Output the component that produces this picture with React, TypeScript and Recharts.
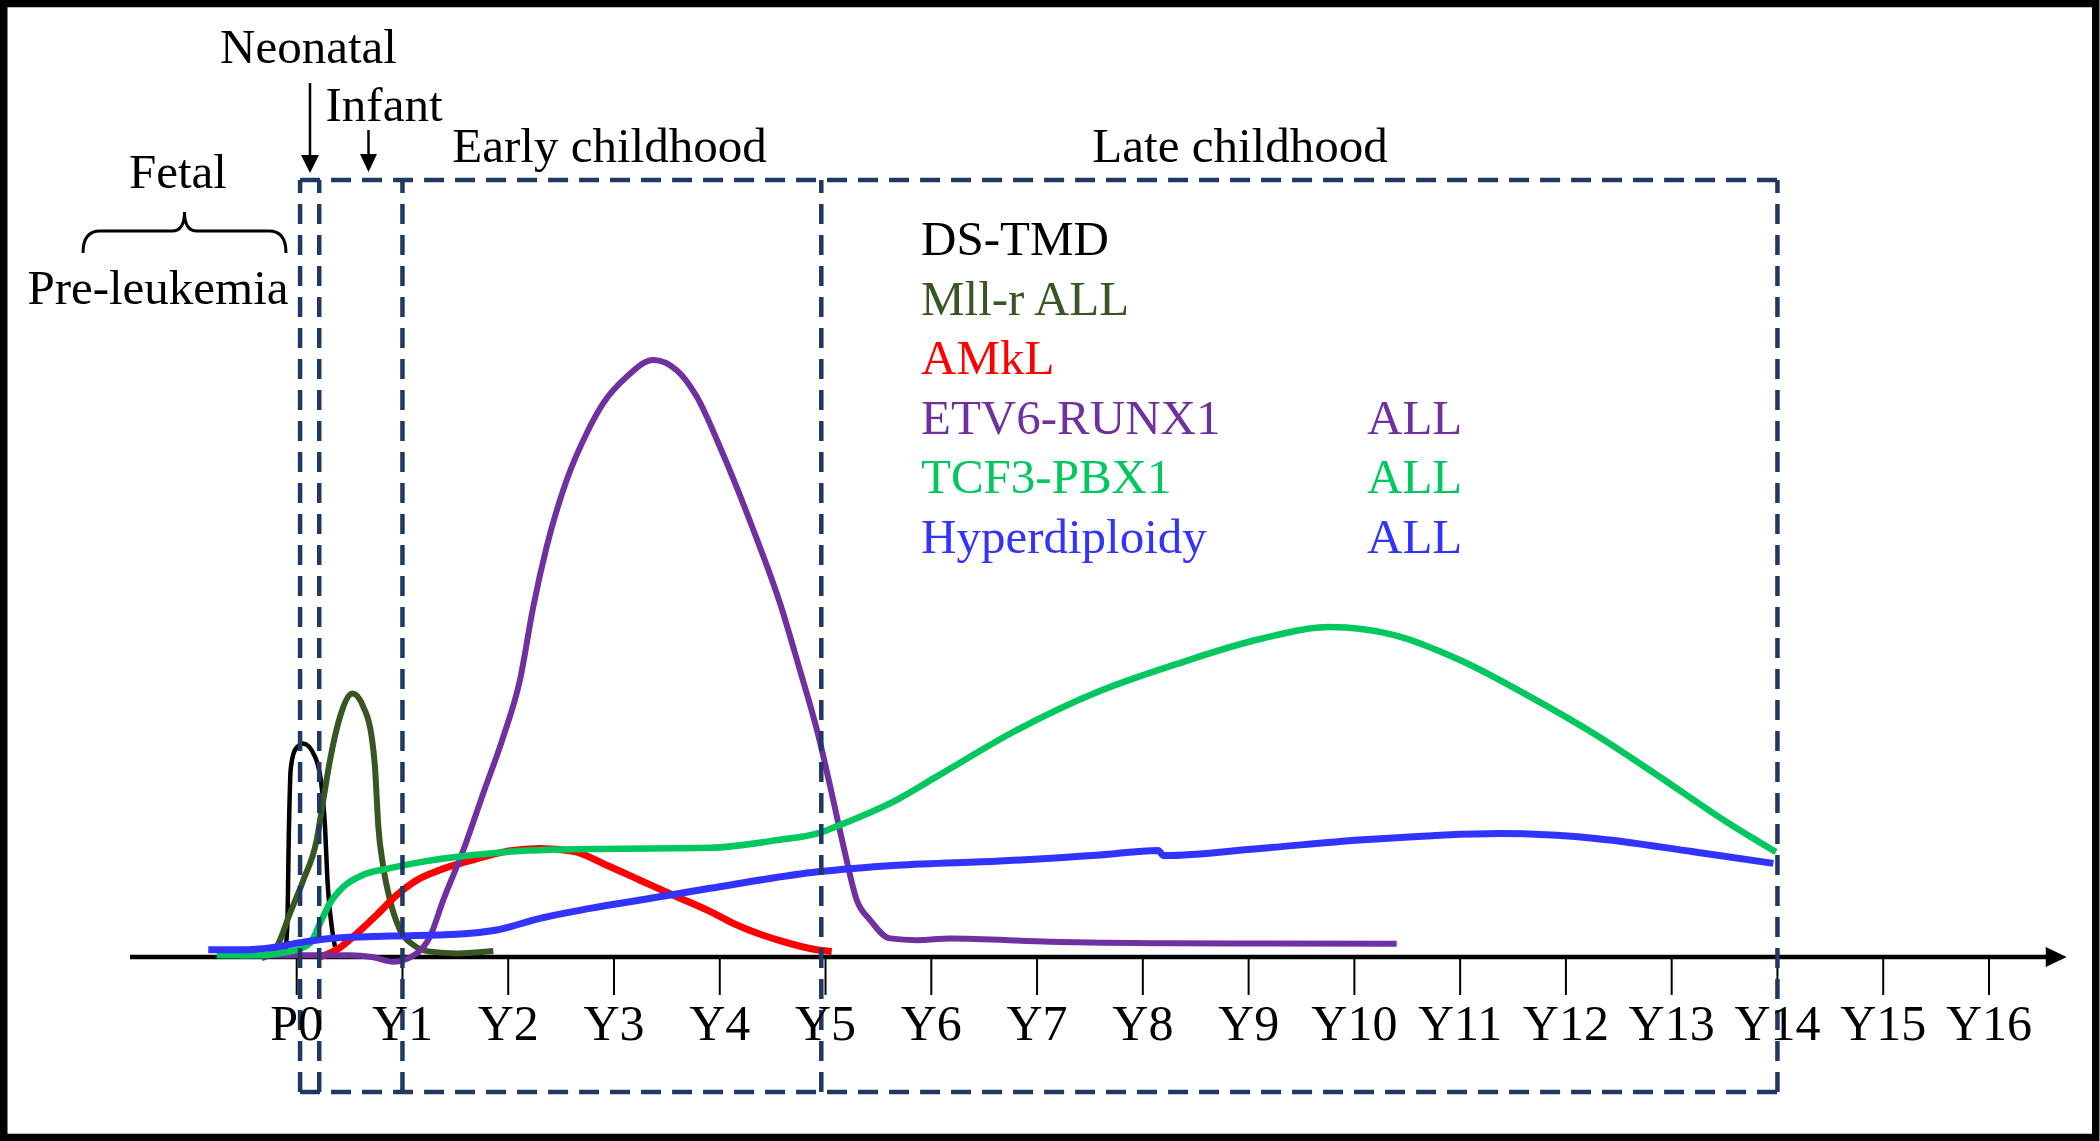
import { LineChart, Line, XAxis, YAxis, ReferenceLine, ReferenceDot } from 'recharts'

type Pt = { age: number; level: number }

const pts = (rows: number[][]): Pt[] => rows.map(([age, level]) => ({ age, level }))

// x axis: P0 = birth, then years; tick labels as printed
const tickLabels = ['P0', 'Y1', 'Y2', 'Y3', 'Y4', 'Y5', 'Y6', 'Y7', 'Y8', 'Y9', 'Y10', 'Y11', 'Y12', 'Y13', 'Y14', 'Y15', 'Y16']
const tickValues = tickLabels.map((_, i) => i)

// relative incidence curves
const dsTmd = pts([
  [-0.111, 0.6], [-0.089, 5.1], [-0.073, 21.7], [-0.057, 31.2], [-0.016, 34.5], [0.062, 35.6],
  [0.173, 33.4], [0.236, 28.4], [0.268, 21.7], [0.289, 13.4], [0.331, 5.1], [0.362, 1.7],
])

const mllAll = pts([
  [-0.331, -0.2], [-0.189, 1.7], [-0.063, 7.3], [0.062, 12.8], [0.189, 19.5], [0.252, 26.2],
  [0.315, 32.8], [0.409, 40], [0.529, 43.9], [0.63, 41.7], [0.709, 36.7], [0.74, 31.7],
  [0.772, 21.7], [0.819, 15], [0.882, 9.5], [0.977, 4.5], [1.103, 2], [1.26, 0.9],
  [1.513, 0.6], [1.859, 1.0],
])

const amkl = pts([
  [0.22, 0], [0.378, 1.2], [0.567, 3.9], [0.756, 7], [0.945, 10.3], [1.135, 12.8],
  [1.355, 14.5], [1.67, 16.2], [1.985, 17.6], [2.3, 18.1], [2.615, 17.6], [2.931, 15.3],
  [3.246, 12.8], [3.561, 10.3], [3.908, 7.6], [4.128, 5.6], [4.601, 2.55], [4.916, 1.2],
  [5.058, 0.9],
])

const etv6 = pts([
  [-0.536, 0.2], [0.031, 0.3], [0.504, 0.3], [0.712, 0], [0.913, -0.8], [1.135, 0.6],
  [1.26, 3.4], [1.386, 9.5], [1.575, 17.8], [1.764, 27.3], [1.953, 36.7], [2.111, 46.2],
  [2.237, 58.4], [2.364, 68.4], [2.553, 79.5], [2.742, 87.3], [2.899, 92.3], [3.12, 96.7],
  [3.371, 99.5], [3.593, 97.8], [3.782, 93.4], [4.002, 85.0], [4.317, 71.2], [4.569, 59.0],
  [4.758, 47.8], [4.927, 37.3], [5.052, 27.8], [5.178, 17.8], [5.295, 9.5], [5.42, 6.2],
  [5.609, 3.1], [5.862, 2.8], [6.177, 3.1], [7.122, 2.55], [8.257, 2.3], [10.4, 2.2],
])

const tcf3 = pts([
  [-0.756, 0.3], [-0.378, 0.3], [-0.063, 0.9], [0.126, 2.3], [0.22, 5.6], [0.315, 9.0],
  [0.441, 11.7], [0.63, 13.7], [0.882, 14.8], [1.197, 15.9], [1.67, 17], [2.142, 17.7],
  [2.773, 18], [3.908, 18.2], [4.549, 19.5], [4.943, 20.7], [5.178, 22.3], [5.675, 26.2],
  [6.054, 30.1], [6.817, 37.9], [7.576, 44.2], [8.332, 48.9], [9.108, 53.0], [9.77, 55.0],
  [10.368, 53.7], [10.998, 49.5], [11.629, 43.7], [12.259, 37.3], [12.889, 30.0],
  [13.52, 22.5], [13.986, 17.5],
])

const hyperdiploid = pts([
  [-0.836, 1.2], [-0.536, 1.2], [-0.221, 1.6], [0.031, 2.4], [0.315, 3.1], [0.882, 3.5],
  [1.513, 3.8], [1.891, 4.5], [2.3, 6.45], [2.773, 8.1], [3.404, 9.95], [3.908, 11.45],
  [4.927, 14.2], [5.675, 15.3], [6.649, 16], [7.595, 17], [8.143, 17.75], [8.2, 16.9],
  [9.108, 18.1], [10.053, 19.5], [11.377, 20.6], [12.259, 19.8], [13.204, 17.55], [13.961, 15.6],
])

// stage boundaries (neonatal | infant | early childhood | late childhood)
const stageEdges = [0.032, 0.213, 1.0, 4.96, 14.0]
const boxTop = 129.5
const boxBottom = -22.5
const tickDepth = -6.33
const axisStart = -1.576
const axisEnd = 16.55
const arrowTip = 16.735

const legendNames = ['DS-TMD', 'Mll-r ALL', 'AMkL', 'ETV6-RUNX1', 'TCF3-PBX1', 'Hyperdiploidy']
const legendSuffix = ['', '', '', 'ALL', 'ALL', 'ALL']
const seriesColors = ['#000000', '#375623', '#ff0000', '#7030a0', '#00c85f', '#3333ff']
const seriesWidths = [4.5, 6, 7, 6, 6.5, 7]

const SERIF = "'Liberation Serif', 'Times New Roman', serif"
const NAVY = '#1f3864'

export default function App() {
  const series = [dsTmd, mllAll, amkl, etv6, tcf3, hyperdiploid]
  const dash = { stroke: NAVY, strokeWidth: 4.5, strokeDasharray: '20 11' }

  return (
    <div style={{ position: 'absolute', left: 0, top: 0, width: 2100, height: 1141, background: '#fff' }}>
      <LineChart width={2100} height={1141} margin={{ top: 180, right: 30, bottom: 49, left: 130 }}>
        <XAxis dataKey="age" type="number" domain={[axisStart, 16.766]} allowDataOverflow hide />
        <YAxis type="number" domain={[boxBottom, boxTop]} allowDataOverflow hide />

        {/* hand-drawn style x axis */}
        <ReferenceLine
          segment={[{ x: axisStart, y: 0 }, { x: axisEnd, y: 0 }]}
          stroke="#000"
          strokeWidth={4.5}
          ifOverflow="visible"
        />
        <ReferenceDot
          x={arrowTip}
          y={0}
          r={0}
          ifOverflow="visible"
          shape={(p: any) => (
            <polygon points={`${p.cx},${p.cy} ${p.cx - 21},${p.cy - 10} ${p.cx - 21},${p.cy + 10}`} fill="#000" />
          )}
        />
        {tickValues.map((v) => (
          <ReferenceLine
            key={v}
            segment={[{ x: v, y: 0 }, { x: v, y: tickDepth }]}
            stroke="#000"
            strokeWidth={2}
            ifOverflow="visible"
            label={{ value: tickLabels[v], position: 'bottom', offset: 10, fill: '#000', fontSize: 50, fontFamily: SERIF }}
          />
        ))}

        {series.map((data, i) => (
          <Line
            key={legendNames[i]}
            data={data}
            dataKey="level"
            type="monotone"
            stroke={seriesColors[i]}
            strokeWidth={seriesWidths[i]}
            dot={false}
            activeDot={false}
            isAnimationActive={false}
          />
        ))}

        {stageEdges.map((e) => (
          <ReferenceLine key={e} segment={[{ x: e, y: boxBottom }, { x: e, y: boxTop }]} ifOverflow="visible" {...dash} />
        ))}
        <ReferenceLine
          segment={[{ x: stageEdges[0], y: boxTop }, { x: stageEdges[4], y: boxTop }]}
          ifOverflow="visible"
          {...dash}
        />
        <ReferenceLine
          segment={[{ x: stageEdges[0], y: boxBottom }, { x: stageEdges[4], y: boxBottom }]}
          ifOverflow="visible"
          {...dash}
        />
      </LineChart>

      <svg
        width={2100}
        height={1141}
        style={{ position: 'absolute', left: 0, top: 0, pointerEvents: 'none' }}
        fontFamily={SERIF}
        fontSize={49}
      >
        <rect x={3.75} y={3.5} width={2092} height={1134} fill="none" stroke="#000" strokeWidth={7.5} />

        <text x={308.5} y={63} textAnchor="middle">Neonatal</text>
        <line x1={310} y1={83} x2={310} y2={158} stroke="#000" strokeWidth={2.5} />
        <polygon points="310,173 301,155 319,155" fill="#000" />

        <text x={384} y={121} textAnchor="middle">Infant</text>
        <line x1={368.5} y1={130} x2={368.5} y2={156} stroke="#000" strokeWidth={2.5} />
        <polygon points="368.5,172 360,154 377,154" fill="#000" />

        <text x={609.5} y={162} textAnchor="middle">Early childhood</text>
        <text x={1240} y={162} textAnchor="middle">Late childhood</text>

        <text x={178} y={188} textAnchor="middle">Fetal</text>
        <path
          d="M83,253 Q83,231 100,231 L172,231 Q184.5,231 184.5,212 Q184.5,231 197,231 L269,231 Q286,231 286,253"
          fill="none"
          stroke="#000"
          strokeWidth={3}
        />
        <text x={158} y={304} textAnchor="middle">Pre-leukemia</text>

        {legendNames.map((n, i) => (
          <g key={n} fill={seriesColors[i]}>
            <text x={921} y={255 + i * 59.5}>{n}</text>
            {legendSuffix[i] && <text x={1367} y={255 + i * 59.5}>{legendSuffix[i]}</text>}
          </g>
        ))}
      </svg>
    </div>
  )
}
